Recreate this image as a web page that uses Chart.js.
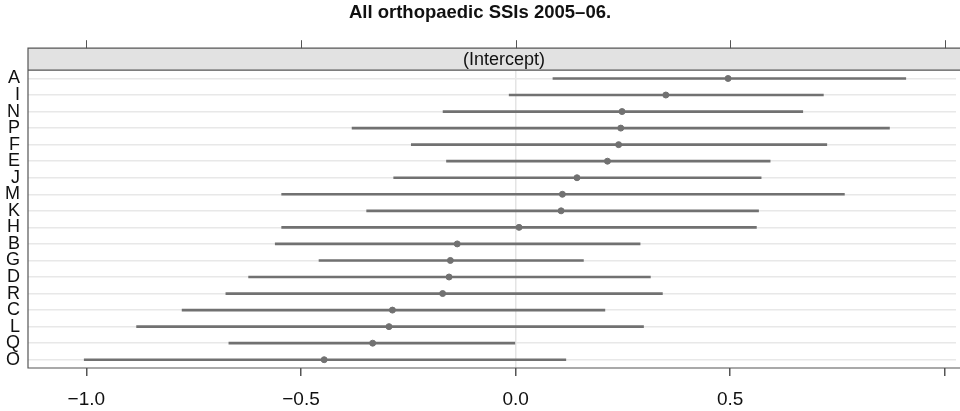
<!DOCTYPE html>
<html>
<head>
<meta charset="utf-8">
<script src="https://cdn.jsdelivr.net/npm/chart.js@4.4.0/dist/chart.umd.min.js"></script>
<style>
  html, body { margin: 0; padding: 0; background: #fff; }
  #wrap { width: 960px; height: 411px; position: relative; }
</style>
</head>
<body>
<div id="wrap"><canvas id="chart"></canvas></div>
<script>
const categories = ["A", "I", "N", "P", "F", "E", "J", "M", "K", "H", "B", "G", "D", "R", "C", "L", "Q", "O"];
const estimates = [0.495, 0.350, 0.248, 0.245, 0.240, 0.214, 0.143, 0.109, 0.106, 0.008, -0.136, -0.152, -0.155, -0.170, -0.287, -0.295, -0.333, -0.446];
const lower = [0.087, -0.015, -0.169, -0.381, -0.243, -0.161, -0.284, -0.545, -0.347, -0.545, -0.560, -0.458, -0.622, -0.675, -0.777, -0.883, -0.668, -1.005];
const upper = [0.909, 0.717, 0.669, 0.871, 0.725, 0.593, 0.572, 0.766, 0.566, 0.561, 0.290, 0.158, 0.314, 0.342, 0.208, 0.298, 0.000, 0.117];
const tickValues = [-1.0, -0.5, 0.0, 0.5, 1.0];
const tickLabels = ["\u22121.0", "\u22120.5", "0.0", "0.5", ""];
const stripLabel = "(Intercept)";
const titleText = "All orthopaedic SSIs 2005\u201306.";

const lineColor = "#717171";
const frameColor = "#555";

// strip, top ticks and panel frame (lattice style)
const latticePanel = {
  id: "latticePanel",
  afterDraw(chart) {
    const { ctx, chartArea: a, scales } = chart;
    const stripTop = a.top - 22;
    const right = chart.width + 5;
    ctx.save();
    ctx.fillStyle = "#e2e2e2";
    ctx.fillRect(a.left, stripTop, right - a.left, a.top - stripTop);
    ctx.strokeStyle = frameColor;
    ctx.lineWidth = 1.2;
    ctx.beginPath();
    ctx.moveTo(right, stripTop);
    ctx.lineTo(a.left, stripTop);
    ctx.lineTo(a.left, a.bottom);
    ctx.lineTo(right, a.bottom);
    ctx.moveTo(a.left, a.top);
    ctx.lineTo(right, a.top);
    ctx.stroke();
    // top ticks
    ctx.lineWidth = 1;
    tickValues.forEach(v => {
      const x = Math.round(scales.x.getPixelForValue(v)) + 0.5;
      ctx.beginPath();
      ctx.moveTo(x, stripTop - 8);
      ctx.lineTo(x, stripTop);
      ctx.stroke();
    });
    ctx.fillStyle = "#111";
    ctx.font = "18px 'Liberation Sans', Arial, sans-serif";
    ctx.textAlign = "center";
    ctx.textBaseline = "middle";
    ctx.fillText(stripLabel, 504, (stripTop + a.top) / 2 + 1);
    ctx.restore();
  }
};

new Chart(document.getElementById("chart"), {
  type: "bar",
  data: {
    labels: categories,
    datasets: [
      {
        type: "scatter",
        data: estimates.map((v, i) => ({ x: v, y: categories[i] })),
        backgroundColor: lineColor,
        borderColor: lineColor,
        pointRadius: 3,
        pointHoverRadius: 3,
        order: 0
      },
      {
        data: lower.map((lo, i) => [lo, upper[i]]),
        backgroundColor: lineColor,
        barThickness: 2,
        order: 1
      }
    ]
  },
  options: {
    indexAxis: "y",
    responsive: true,
    maintainAspectRatio: false,
    animation: false,
    plugins: {
      legend: { display: false },
      tooltip: { enabled: false },
      title: {
        display: true,
        text: titleText,
        color: "#111",
        font: { family: "'Liberation Sans', Arial, sans-serif", size: 18.5, weight: "bold" },
        padding: { top: 2, bottom: 46 }
      }
    },
    scales: {
      x: {
        type: "linear",
        min: -1.136,
        max: 1.026,
        afterBuildTicks: s => { s.ticks = tickValues.map(v => ({ value: v })); },
        afterFit: s => { s.height = 43; },
        border: { display: false },
        grid: {
          color: c => (c.tick && c.tick.value === 0 ? "#e4e4e4" : "transparent"),
          lineWidth: 1.5,
          drawTicks: true,
          tickLength: 8,
          tickColor: frameColor
        },
        ticks: {
          padding: 12,
          color: "#111",
          font: { family: "'Liberation Sans', Arial, sans-serif", size: 19 },
          callback: (v, i) => tickLabels[i]
        }
      },
      y: {
        type: "category",
        offset: true,
        afterFit: s => { s.width = 28; },
        border: { display: false },
        grid: { offset: false, color: "#e8e8e8", lineWidth: 1.5, drawTicks: false },
        ticks: {
          padding: 8,
          color: "#111",
          autoSkip: false,
          font: { family: "'Liberation Sans', Arial, sans-serif", size: 18 }
        }
      }
    }
  },
  plugins: [latticePanel]
});
</script>
</body>
</html>
